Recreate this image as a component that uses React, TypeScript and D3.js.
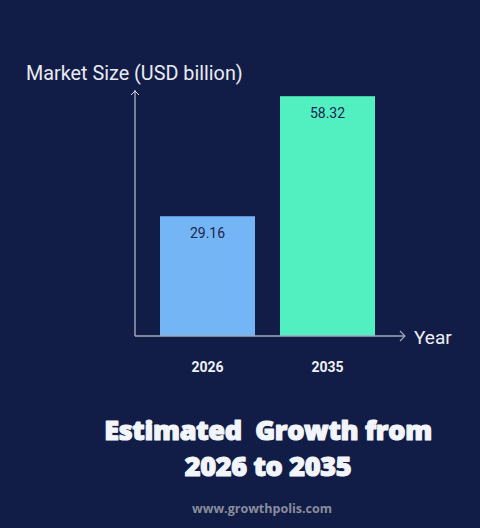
import React from "react";
import * as d3 from "d3";

const categories = ["2026", "2035"];
const values = [29.16, 58.32];
const barColors = ["#74b6f5", "#52efc0"];
const barEdgeColors = ["#5a8fd0", "#3fc9a0"];
const yTitle = "Market Size (USD billion)";
const xTitle = "Year";
const titleLines = ["Estimated  Growth from", "2026 to 2035"];
const website = "www.growthpolis.com";

export default function App() {
  const W = 480, H = 528;
  const bg = "#121d47";
  const x0 = 135, baseY = 336;
  const x = d3.scaleBand<string>().domain(categories).range([147.5, 387.5]).paddingInner(25 / 120).paddingOuter(12.5 / 120);
  const y = d3.scaleLinear().domain([0, 58.32]).range([baseY, 96]);
  return (
    <svg width={W} height={H} style={{ display: "block", position: "fixed", left: 0, top: 0, background: bg }}>
      <rect width={W} height={H} fill={bg} />
      <text x={26} y={80} fontFamily="Roboto" fontSize={19.8} fill="#e9ebf2">{yTitle}</text>
      {categories.map((c, i) => {
        const bx = x(c)!;
        const bw = x.bandwidth();
        const top = y(values[i]);
        return (
          <g key={c}>
            <rect x={bx} y={top} width={bw} height={baseY - top} fill={barColors[i]} />
            <line x1={bx} x2={bx + bw} y1={top + 0.5} y2={top + 0.5} stroke={barEdgeColors[i]} strokeWidth={1} />
            <text x={bx + bw / 2} y={top + 22} textAnchor="middle" fontFamily="Roboto" fontSize={14} fill="#1c2550">{values[i].toFixed(2)}</text>
            <text x={bx + bw / 2} y={372} textAnchor="middle" fontFamily="Roboto" fontWeight={700} fontSize={14} fill="#eef0f6">{c}</text>
          </g>
        );
      })}
      <line x1={x0} x2={x0} y1={90} y2={baseY} stroke="#dfe2ea" strokeWidth={1} />
      <path d={`M${x0 - 4},${95} L${x0},${91} L${x0 + 4},${95}`} fill="none" stroke="#dfe2ea" strokeWidth={1} />
      <line x1={x0} x2={405} y1={baseY} y2={baseY} stroke="#a3a8bc" strokeWidth={1.5} />
      <path d={`M${400},${331} L${405},${336} L${400},${341}`} fill="none" stroke="#a3a8bc" strokeWidth={1.2} />
      <text x={414} y={344} fontFamily="Roboto" fontSize={19} fill="#eef0f6">{xTitle}</text>
      {titleLines.map((t, i) => (
        <text key={i} x={268} y={440 + i * 36} textAnchor="middle" fontFamily="Open Sans" fontWeight={800} fontSize={27} letterSpacing={-0.3} fill="#f2f5fb" stroke="#f2f5fb" strokeWidth={1.2} strokeLinejoin="round" style={{ whiteSpace: "pre" }}>{t}</text>
      ))}
      <text x={262} y={513} textAnchor="middle" fontFamily="Open Sans" fontWeight={700} fontSize={12.5} fill="#8a8d9c">{website}</text>
    </svg>
  );
}
